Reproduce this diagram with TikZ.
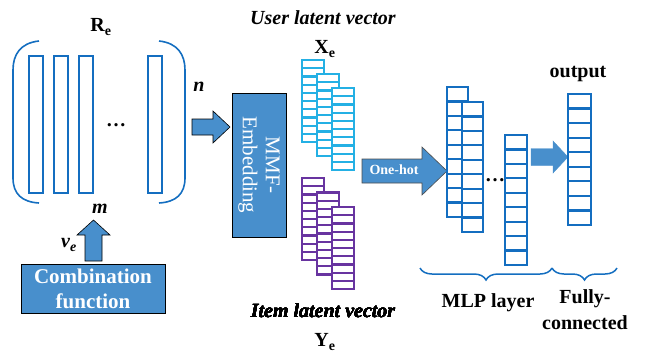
\documentclass[tikz,border=0pt]{standalone}
\usepackage{fontspec}
\setmainfont{Liberation Serif}
\usetikzlibrary{decorations.pathreplacing}

\definecolor{boxblue}{RGB}{72,143,204}
\definecolor{cellblue}{RGB}{20,110,192}
\definecolor{usercyan}{RGB}{36,176,228}
\definecolor{itempurple}{RGB}{104,52,160}

% column of cells: x, y, width, height, cells, colour
\newcommand{\cellstack}[6]{%
  \draw[#6,line width=2.2pt,fill=white] (#1,#2) rectangle ++(#3,#4);
  \foreach \k in {1,...,#5}{\draw[#6,line width=2.2pt] (#1,{#2+\k*#4/#5}) -- ++(#3,0);}
}
% block arrow to the right: x1, x2, y, shaft half, head half, head length
\newcommand{\rarrow}[7][]{%
  \filldraw[boxblue,#1] (#2,#4-#5) -- (#3-#7,#4-#5) -- (#3-#7,#4-#6) -- (#3,#4)
    -- (#3-#7,#4+#6) -- (#3-#7,#4+#5) -- (#2,#4+#5) -- cycle;
}

\begin{document}
\begin{tikzpicture}[x=1pt,y=-1pt,
  lbl/.style={font=\fontsize{20}{24}\selectfont\bfseries},
  ilbl/.style={font=\fontsize{20}{24}\selectfont\bfseries\itshape},
  bluebox/.style={draw=black,line width=0.8pt,fill=boxblue,text=white,align=center}]
\useasboundingbox (0,0) rectangle (648,354);

% matrix R_e
\draw[cellblue,line width=1.6pt] (39,41) .. controls (20,43) and (13,55) .. (13,70) -- (13,178)
  .. controls (13,194) and (22,202) .. (39,203); %left bracket
\draw[cellblue,line width=1.6pt] (159,41) .. controls (178,43) and (185,55) .. (185,70) -- (185,178)
  .. controls (185,194) and (176,202) .. (159,203); %right bracket
\foreach \cx in {29,54,79,148}
  \draw[cellblue,line width=1.6pt] (\cx,56) rectangle ++(14,137);
\node[lbl] (dotsR) at (116,125) {\dots};
\node[lbl] (Re) at (101,27) {R\textsubscript{e}};
\node[ilbl] (n) at (199,87) {n};
\node[ilbl] (m) at (100,209) {m};
\node[ilbl] (ve) at (69,245) {v\textsubscript{e}};

% combination function
\node[bluebox,minimum width=144pt,minimum height=49pt,
  font=\fontsize{21}{25}\selectfont\bfseries] (comb) at (93,288.5) {Combination\\function};
\filldraw[boxblue,draw=black,line width=0.6pt] (85,261) -- (85,235) -- (77,235) -- (93.5,220)
  -- (110,235) -- (102,235) -- (102,261) -- cycle; %up arrow

% embedding
\rarrow[draw=black,line width=0.6pt]{192}{230}{127}{8}{16}{17}
\node[bluebox,rotate=-90,minimum width=144pt,minimum height=54pt,
  font=\fontsize{21}{23}\selectfont] (mmf) at (259,165) {MMF-\\Embedding};

% latent vectors
\node[ilbl] (user) at (323,18) {User latent vector};
\node[lbl] (Xe) at (325,49) {X\textsubscript{e}};
\foreach \s in {0,1,2}
  \cellstack{302+15*\s}{60+14*\s}{22}{82}{10}{usercyan}
\foreach \s in {0,1,2}
  \cellstack{302+15*\s}{178+14.5*\s}{22}{82}{10}{itempurple}
\node[ilbl] (item) at (323,311) {Item latent vector};
\node[lbl] (Ye) at (325,342) {Y\textsubscript{e}};

% MLP
\rarrow[draw=black!70,line width=0.6pt]{362}{447}{171}{12}{24}{25}
\node[text=white,font=\fontsize{14}{16}\selectfont\bfseries] (onehot) at (394,170) {One-hot};
\cellstack{447}{87}{21}{130}{9}{cellblue}
\cellstack{462}{102}{21}{130}{9}{cellblue}
\cellstack{505}{135}{22}{130}{9}{cellblue}
\node[lbl] (dotsM) at (495,180) {\dots};
\rarrow{531}{568}{157}{8.5}{16}{15}
\cellstack{568}{94}{23}{131}{9}{cellblue}
\node[lbl] (output) at (578,74) {output};

% braces
\draw[cellblue,line width=1.5pt,decorate,decoration={brace,mirror,amplitude=12pt}] (420,268) -- (552,268);
\draw[cellblue,line width=1.5pt,decorate,decoration={brace,mirror,amplitude=12pt}] (552,268) -- (617,268);
\node[lbl] (mlp) at (488,303) {MLP layer};
\node[lbl,align=center,font=\fontsize{20}{26}\selectfont\bfseries] (fully) at (585,310) {Fully-\\connected};
\end{tikzpicture}
\end{document}
